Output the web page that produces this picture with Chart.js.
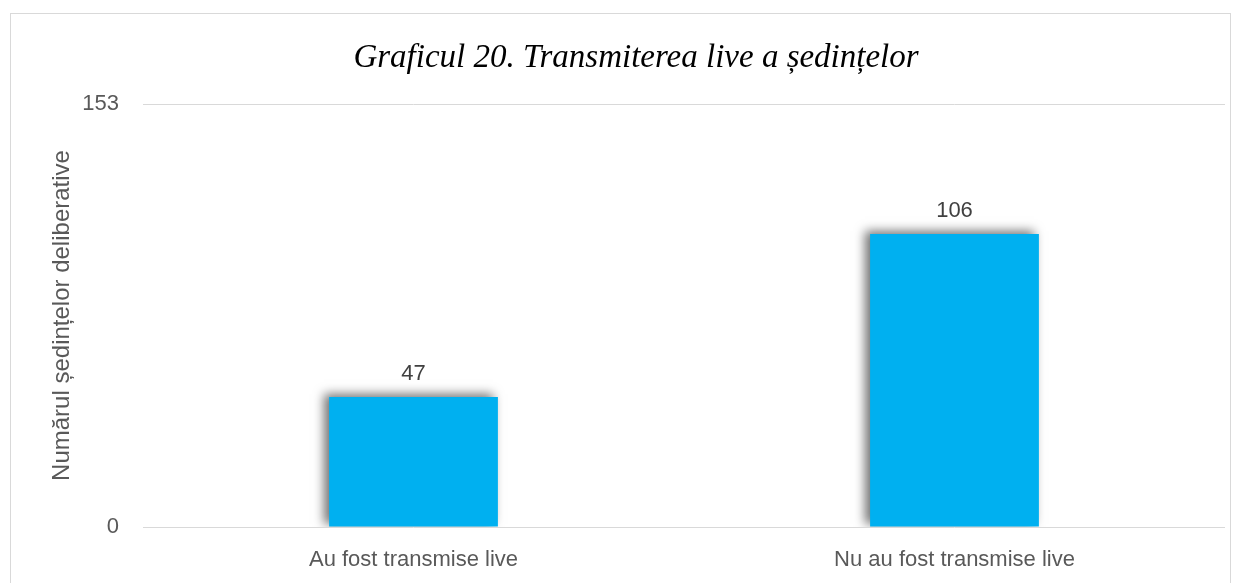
<!DOCTYPE html>
<html>
<head>
<meta charset="utf-8">
<script src="https://cdn.jsdelivr.net/npm/chart.js@4.4.1/dist/chart.umd.min.js"></script>
<style>
  html, body { margin: 0; padding: 0; background: #ffffff; }
  #wrap { position: relative; width: 1242px; height: 583px; overflow: hidden; }
  #frame { position: absolute; left: 10px; top: 13px; width: 1221px; height: 620px; border: 1px solid #d9d9d9; box-sizing: border-box; }
  canvas { position: absolute; left: 0; top: 0; }
</style>
</head>
<body>
<div id="wrap">
  <div id="frame"></div>
  <canvas id="c" width="1242" height="583"></canvas>
</div>
<script>
const categories = ["Au fost transmise live", "Nu au fost transmise live"];
const values = [47, 106];
const yTicks = [0, 153];
const chartTitle = "Graficul 20. Transmiterea live a ședințelor";
const yAxisTitle = "Numărul ședințelor deliberative";

const FONT = "'Liberation Sans', 'DejaVu Sans', sans-serif";
const TITLE_FONT = "'Liberation Serif', 'DejaVu Serif', serif";

const shadowPlugin = {
  id: 'barShadow',
  beforeDatasetsDraw(chart) {
    const ctx = chart.ctx;
    ctx.save();
    ctx.shadowColor = 'rgba(0,0,0,0.55)';
    ctx.shadowBlur = 10;
    ctx.shadowOffsetX = -5;
    ctx.shadowOffsetY = -3;
  },
  afterDatasetsDraw(chart) {
    chart.ctx.restore();
  }
};

const labelPlugin = {
  id: 'valueLabels',
  afterDatasetsDraw(chart) {
    const ctx = chart.ctx;
    const meta = chart.getDatasetMeta(0);
    ctx.save();
    ctx.font = "22px " + FONT;
    ctx.fillStyle = '#404040';
    ctx.textAlign = 'center';
    ctx.textBaseline = 'alphabetic';
    meta.data.forEach((bar, i) => {
      ctx.fillText(String(chart.data.datasets[0].data[i]), bar.x, bar.y - 17);
    });
    ctx.restore();
  }
};

new Chart(document.getElementById('c'), {
  type: 'bar',
  data: {
    labels: categories,
    datasets: [{
      data: values,
      backgroundColor: '#00B0F0',
      borderWidth: 0,
      categoryPercentage: 1,
      barPercentage: 0.312
    }]
  },
  options: {
    responsive: false,
    animation: false,
    devicePixelRatio: 1,
    layout: { padding: { left: 47, right: 17, top: 0, bottom: 0 } },
    plugins: {
      legend: { display: false },
      tooltip: { enabled: false },
      title: {
        display: true,
        text: chartTitle,
        color: '#000000',
        font: { family: TITLE_FONT, size: 33, style: 'italic', weight: 'normal', lineHeight: 1.2 },
        padding: { top: 38.4, bottom: 26 }
      }
    },
    scales: {
      x: {
        afterFit(scale) { scale.height = 56; },
        grid: { display: false, drawTicks: false },
        border: { display: false },
        ticks: { color: '#595959', font: { family: FONT, size: 22 }, padding: 20, maxRotation: 0 }
      },
      y: {
        min: 0,
        max: 153,
        afterBuildTicks(scale) { scale.ticks = yTicks.map(v => ({ value: v })); },
        afterFit(scale) { scale.width = 96; },
        grid: { color: '#d9d9d9', lineWidth: 1, drawTicks: false },
        border: { display: false },
        ticks: { color: '#595959', font: { family: FONT, size: 22 }, padding: 24 },
        title: {
          display: true,
          text: yAxisTitle,
          color: '#595959',
          font: { family: FONT, size: 24, lineHeight: 1.2 },
          padding: { top: 0.6, bottom: 0 }
        }
      }
    }
  },
  plugins: [shadowPlugin, labelPlugin]
});
</script>
</body>
</html>
